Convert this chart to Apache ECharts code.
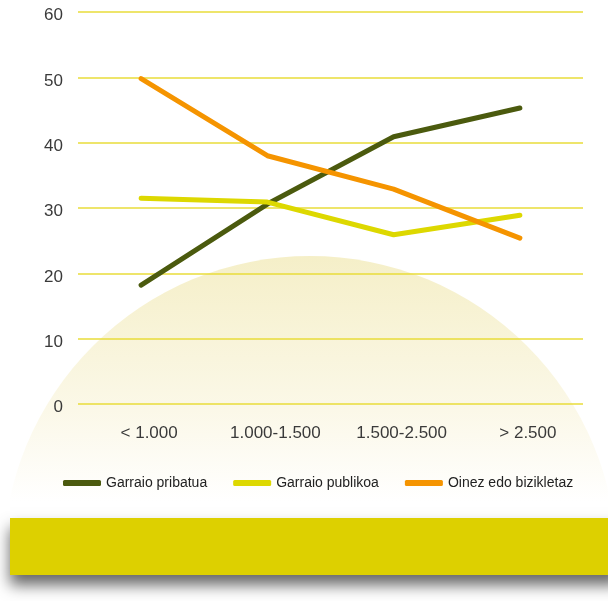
<!DOCTYPE html>
<html>
<head>
<meta charset="utf-8">
<style>
  html, body { margin: 0; padding: 0; background: #ffffff; }
  #chart { width: 608px; height: 601px; }
</style>
<script src="https://cdn.jsdelivr.net/npm/echarts@6/dist/echarts.min.js"></script>
</head>
<body>
<div id="chart"></div>
<script>
// Distance bands (x axis)
const categories = ['< 1.000', '1.000-1.500', '1.500-2.500', '> 2.500'];
// Share of trips per mode (%)
const garraioPribatua = [18.2, 30.6, 40.9, 45.3];
const garraioPublikoa = [31.5, 30.9, 25.9, 28.9];
const oinezEdoBizikletaz = [49.8, 38.0, 32.9, 25.4];
// Value axis ticks
const yTicks = [0, 10, 20, 30, 40, 50, 60];

const chart = echarts.init(document.getElementById('chart'), null, { renderer: 'canvas' });

const lineSeries = (name, data, color) => ({
  name: name,
  type: 'line',
  data: data,
  symbol: 'none',
  lineStyle: { width: 5, color: color, cap: 'round', join: 'round' },
  itemStyle: { color: color },
  z: 5
});

const labelFont = '"Liberation Sans", Arial, sans-serif';

chart.setOption({
  animation: false,
  backgroundColor: '#ffffff',
  graphic: [
    {
      type: 'circle',
      z: -10,
      silent: true,
      shape: { cx: 310, cy: 563, r: 307 },
      style: {
        fill: new echarts.graphic.LinearGradient(0, 0, 0, 1, [
          { offset: 0, color: '#f5efc8' },
          { offset: 0.25, color: '#fbf8e8' },
          { offset: 0.4, color: '#ffffff' },
          { offset: 1, color: '#ffffff' }
        ])
      }
    },
    {
      type: 'rect',
      z: -5,
      silent: true,
      shape: { x: 10, y: 518, width: 610, height: 57 },
      style: {
        fill: '#ddd000',
        shadowColor: 'rgba(0,0,0,0.6)',
        shadowBlur: 14,
        shadowOffsetY: 10
      }
    }
  ],
  grid: { left: 78, right: 25, top: 12, bottom: 197, containLabel: false },
  legend: {
    bottom: 601 - 495,
    left: 58,
    itemWidth: 38,
    itemHeight: 6,
    itemGap: 26,
    icon: 'roundRect',
    textStyle: {
      fontFamily: labelFont,
      fontSize: 14,
      color: '#222'
    },
    data: ['Garraio pribatua', 'Garraio publikoa', 'Oinez edo bizikletaz']
  },
  xAxis: {
    type: 'category',
    data: categories,
    boundaryGap: true,
    axisLine: { show: false },
    axisTick: { show: false },
    axisLabel: {
      margin: 21,
      padding: [0, 0, 0, 16],
      fontFamily: labelFont,
      fontSize: 17,
      color: '#3a3a3a'
    }
  },
  yAxis: {
    type: 'value',
    min: yTicks[0],
    max: yTicks[yTicks.length - 1],
    interval: 10,
    axisLine: { show: false },
    axisTick: { show: false },
    axisLabel: {
      margin: 15,
      formatter: '{v|{value}}',
      rich: {
        v: {
          padding: [7, 0, 0, 0],
          fontFamily: labelFont,
          fontSize: 17,
          color: '#3a3a3a'
        }
      }
    },
    splitLine: { lineStyle: { color: '#e8dc3a', width: 1.5 } }
  },
  series: [
    lineSeries('Garraio pribatua', garraioPribatua, '#4b5a0e'),
    lineSeries('Garraio publikoa', garraioPublikoa, '#ddd800'),
    lineSeries('Oinez edo bizikletaz', oinezEdoBizikletaz, '#f59400')
  ]
});
</script>
</body>
</html>
